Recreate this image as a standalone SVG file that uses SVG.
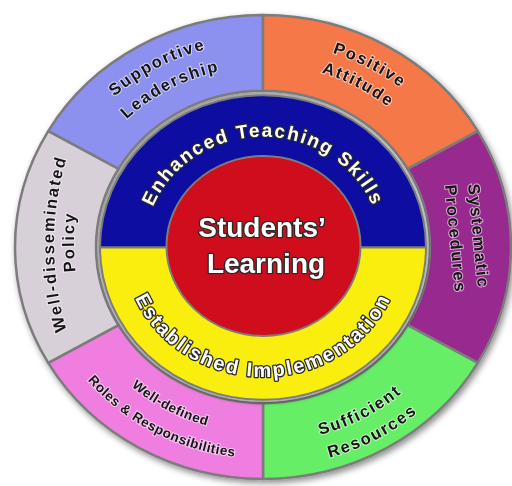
<svg xmlns="http://www.w3.org/2000/svg" width="512" height="486" viewBox="0 0 512 486">
<style>
.seg{stroke:#7c7c7c;stroke-width:2.5;stroke-linejoin:round}
.ring{stroke:#7c7c7c;stroke-width:2}
.ot{font-family:"Liberation Sans",Arial,sans-serif;font-weight:bold;font-size:16.5px;letter-spacing:1.8px;fill:#151515;stroke:#fff;stroke-width:2;stroke-opacity:.6;paint-order:stroke;text-anchor:middle}
.rt{font-size:13.5px;letter-spacing:0.5px}
.wt{font-family:"Liberation Sans",Arial,sans-serif;font-weight:bold;fill:#fff;stroke:#2a2a2a;stroke-width:2.6;stroke-linejoin:round;paint-order:stroke;text-anchor:middle}
</style>
<defs>
<filter id="sh" x="-10%" y="-10%" width="125%" height="125%"><feDropShadow dx="2" dy="3" stdDeviation="3" flood-color="#000" flood-opacity="0.45"/></filter>
<filter id="ish" x="-10%" y="-10%" width="125%" height="125%"><feDropShadow dx="1" dy="2" stdDeviation="2" flood-color="#000" flood-opacity="0.4"/></filter>
<path id="pSup" d="M44,247 A219,204.8 0 0 1 372.5,69.7"/>
<path id="pLea" d="M70,247 A193,180.5 0 0 1 359.5,90.7"/>
<path id="pPos" d="M153.5,69.7 A219,204.8 0 0 1 482,247"/>
<path id="pAtt" d="M165.5,88.7 A195,182.3 0 0 1 458,247"/>
<path id="pSuf" d="M158.5,416.1 A209,195.4 0 0 0 472,247"/>
<path id="pRes" d="M145.5,437.3 A235,219.7 0 0 0 498,247"/>
<path id="pWd" d="M64,247 A199,186.1 0 0 0 362.5,408.2"/>
<path id="pRol" d="M37,247 A226,211.3 0 0 0 376,430"/>
<path id="pWds" d="M94.2,394 A300,300 0 0 1 94.2,94"/>
<path id="pPol" d="M116.8,392 A284,284 0 0 1 116.8,92"/>
<path id="pEnh" d="M145,247 A118,110.3 0 0 1 381,247"/>
<path id="pEst" d="M124,247 A139,130 0 0 0 402,247"/>
</defs>
<rect width="512" height="486" fill="#fff"/>
<g filter="url(#sh)">
<g id="supportive-leadership">
<path class="seg" fill="#8c90ef" d="M48.23,131.06 A248,231.88 0 0 1 263,15.12 L263,90.85 A167,156.15 0 0 0 118.38,168.93 Z"/>
<text class="ot"><textPath href="#pSup" startOffset="50%">Supportive</textPath></text>
<text class="ot"><textPath href="#pLea" startOffset="50%">Leadership</textPath></text>
</g>
<g id="positive-attitude">
<path class="seg" fill="#f5784a" d="M263,15.12 A248,231.88 0 0 1 477.77,131.06 L407.62,168.93 A167,156.15 0 0 0 263,90.85 Z"/>
<text class="ot"><textPath href="#pPos" startOffset="50%">Positive</textPath></text>
<text class="ot"><textPath href="#pAtt" startOffset="50%">Attitude</textPath></text>
</g>
<g id="systematic-procedures">
<path class="seg" fill="#98298f" d="M477.77,131.06 A248,231.88 0 0 1 477.77,362.94 L407.62,325.07 A167,156.15 0 0 0 407.62,168.93 Z"/>
<text class="ot" transform="translate(473,236.5) rotate(84.6)">Systematic</text>
<text class="ot" transform="translate(450,239.5) rotate(84.6)">Procedures</text>
</g>
<g id="sufficient-resources">
<path class="seg" fill="#66ef66" d="M477.77,362.94 A248,231.88 0 0 1 263,478.88 L263,403.15 A167,156.15 0 0 0 407.62,325.07 Z"/>
<text class="ot"><textPath href="#pSuf" startOffset="50%">Sufficient</textPath></text>
<text class="ot"><textPath href="#pRes" startOffset="50%">Resources</textPath></text>
</g>
<g id="well-defined-roles">
<path class="seg" fill="#f07ee0" d="M263,478.88 A248,231.88 0 0 1 48.23,362.94 L118.38,325.07 A167,156.15 0 0 0 263,403.15 Z"/>
<text class="ot rt"><textPath href="#pWd" startOffset="50%">Well-defined</textPath></text>
<text class="ot rt"><textPath href="#pRol" startOffset="50%">Roles &amp; Responsibilities</textPath></text>
</g>
<g id="well-disseminated-policy">
<path class="seg" fill="#d8d0d8" d="M48.23,362.94 A248,231.88 0 0 1 48.23,131.06 L118.38,168.93 A167,156.15 0 0 0 118.38,325.07 Z"/>
<text class="ot"><textPath href="#pWds" startOffset="50%">Well-disseminated</textPath></text>
<text class="ot"><textPath href="#pPol" startOffset="50%">Policy</textPath></text>
</g>
</g>
<g filter="url(#ish)">
<g id="enhanced-teaching-skills">
<path class="ring" fill="#0b10a2" d="M100,247.5 A163,152.4 0 0 1 426,247.5 Z"/>
<text class="wt" font-size="19" letter-spacing="1.8"><textPath href="#pEnh" startOffset="50%">Enhanced Teaching Skills</textPath></text>
</g>
<g id="established-implementation">
<path class="ring" fill="#f9ee0f" d="M100,247.5 A163,152.4 0 0 0 426,247.5 Z"/>
<text class="wt" font-size="20" letter-spacing="2"><textPath href="#pEst" startOffset="50%">Established Implementation</textPath></text>
</g>
<g id="students-learning">
<ellipse class="ring" cx="263.5" cy="246" rx="97" ry="90" fill="#d00c1c"/>
<text class="wt" font-size="28" x="262" y="237">Students’</text>
<text class="wt" font-size="28" x="266" y="273">Learning</text>
</g>
</g>
</svg>
